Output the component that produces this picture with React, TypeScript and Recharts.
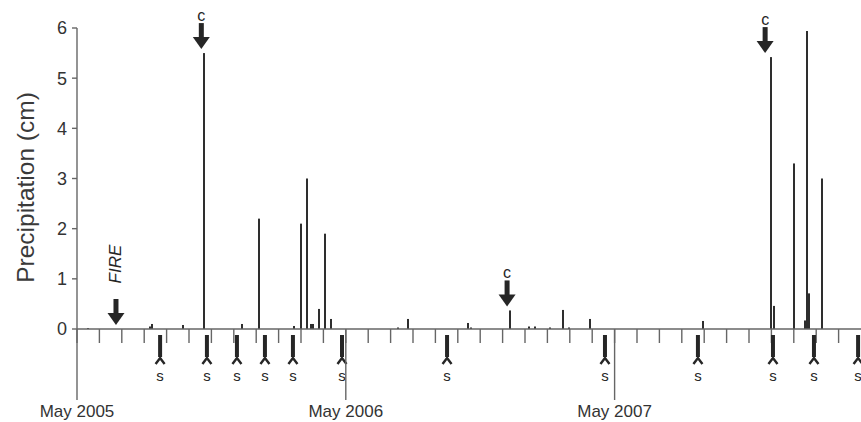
import { Bar, ComposedChart, Scatter, XAxis, YAxis } from "recharts"

// months counted from 1 May 2005
const rainMonths = [0.49, 3.26, 3.35, 4.73, 5.67, 7.37, 8.13, 9.69, 10.0, 10.27, 10.45, 10.54, 10.8, 11.07, 11.34, 14.33, 14.78, 17.46, 17.59, 19.33, 20.18, 20.45, 21.12, 21.7, 21.96, 22.9, 27.95, 30.98, 31.12, 32.0, 32.5, 32.59, 32.68, 33.26]
const rainCm = [0.02, 0.05, 0.1, 0.08, 5.5, 0.1, 2.2, 0.06, 2.1, 3.0, 0.1, 0.1, 0.4, 1.9, 0.2, 0.03, 0.2, 0.12, 0.03, 0.37, 0.05, 0.05, 0.03, 0.38, 0.03, 0.2, 0.16, 5.42, 0.46, 3.3, 0.17, 5.94, 0.71, 3.0]

const cMonths = [5.55, 19.2, 30.72]
const cAtCm = [5.5, 0.37, 5.42]
const fireMonths = [1.74]
const sMonths = [3.71, 5.8, 7.14, 8.39, 9.64, 11.83, 16.52, 23.57, 27.72, 31.07, 32.9, 34.87]

const monthTicks = [0, 1, 2, 3, 4, 5, 6, 7, 8, 9, 10, 11, 12, 13, 14, 15, 16, 17, 18, 19, 20, 21, 22, 23, 24, 25, 26, 27, 28, 29, 30, 31, 32, 33, 34]
const yearTicks = [0, 12, 24]
const yearLabels = ["May 2005", "May 2006", "May 2007"]
const yTicks = [0, 1, 2, 3, 4, 5, 6]

const rain = rainMonths.map((m, i) => ({ m, v: rainCm[i] }))
const cRows = cMonths.map((m, i) => ({ m, v: cAtCm[i] }))
const fireRows = fireMonths.map((m) => ({ m, v: 0 }))
const sRows = sMonths.map((m) => ({ m, v: 0 }))

const FONT = '"Liberation Sans", Arial, Helvetica, sans-serif'
const AXIS = "#666"
const INK = "#262626"

function DownArrow({ x, tip }: { x: number; tip: number }) {
    return (
        <g>
            <rect x={x - 2.5} y={tip - 26} width={5} height={16} fill={INK} />
            <polygon points={`${x - 8.5},${tip - 12} ${x + 8.5},${tip - 12} ${x},${tip}`} fill={INK} />
        </g>
    )
}

function CShape(props: any) {
    const { cx, cy } = props
    const tip = cy - 4
    return (
        <g>
            <DownArrow x={cx} tip={tip} />
            <text x={cx} y={tip - 34} textAnchor="middle" dominantBaseline="central" fontSize={16} fontFamily={FONT} fill={INK}>c</text>
        </g>
    )
}

function FireShape(props: any) {
    const { cx, cy } = props
    const tip = cy - 4
    return (
        <g>
            <DownArrow x={cx} tip={tip} />
            <text
                x={cx}
                y={tip - 61}
                transform={`rotate(-90, ${cx}, ${tip - 61})`}
                textAnchor="middle"
                dominantBaseline="central"
                fontSize={17}
                fontStyle="italic"
                fontFamily={FONT}
                fill={INK}
            >
                FIRE
            </text>
        </g>
    )
}

function SShape(props: any) {
    const { cx, cy } = props
    return (
        <g>
            <line x1={cx} x2={cx} y1={cy + 6} y2={cy + 28} stroke={INK} strokeWidth={4} />
            <polyline points={`${cx - 4.5},${cy + 35} ${cx},${cy + 29} ${cx + 4.5},${cy + 35}`} fill="none" stroke={INK} strokeWidth={2.4} />
            <text x={cx} y={cy + 46} textAnchor="middle" dominantBaseline="central" fontSize={15} fontFamily={FONT} fill={INK}>s</text>
        </g>
    )
}

function RainBar(props: any) {
    const { x, y, width, height } = props
    if (!height || height <= 0) return <g />
    const cx = Math.round(x + width / 2)
    return <rect x={cx - 1} y={y} width={2} height={height} fill="#2e2e2e" />
}

function MonthTick(props: any) {
    const { x, y, payload } = props
    const i = yearTicks.indexOf(payload.value)
    if (i < 0) return <g />
    return (
        <g>
            <line x1={x} x2={x} y1={y - 14} y2={y + 57} stroke={AXIS} strokeWidth={1.4} />
            <text x={x} y={y + 74} textAnchor="middle" fontSize={17} fontFamily={FONT} fill="#333">
                {yearLabels[i]}
            </text>
        </g>
    )
}

function YLabel(props: any) {
    const { viewBox } = props
    const x = viewBox.x + 25
    const y = viewBox.y + viewBox.height / 2 + 9
    return (
        <text x={x} y={y} transform={`rotate(-90, ${x}, ${y})`} textAnchor="middle" dominantBaseline="central" fontSize={24.5} fontFamily={FONT} fill="#3a3a3a">
            Precipitation (cm)
        </text>
    )
}

export default function App() {
    return (
        <div style={{ position: "absolute", left: 0, top: 0, background: "#fff" }}>
            <ComposedChart width={861} height={422} data={rain} margin={{ top: 28, right: 0, bottom: 0, left: 0 }}>
                <XAxis
                    dataKey="m"
                    type="number"
                    domain={[0, 35]}
                    ticks={monthTicks}
                    interval={0}
                    height={93}
                    tickSize={14}
                    tickMargin={0}
                    tick={<MonthTick />}
                    tickLine={{ stroke: AXIS, strokeWidth: 1.4 }}
                    axisLine={{ stroke: AXIS, strokeWidth: 1.4 }}
                />
                <YAxis
                    type="number"
                    domain={[0, 6]}
                    ticks={yTicks}
                    width={77}
                    tickSize={5}
                    tickMargin={5}
                    tick={{ fill: "#333", fontSize: 18, fontFamily: FONT }}
                    tickLine={{ stroke: AXIS, strokeWidth: 1.4 }}
                    axisLine={{ stroke: AXIS, strokeWidth: 1.4 }}
                    label={<YLabel />}
                />
                <Bar dataKey="v" barSize={2} shape={<RainBar />} isAnimationActive={false} />
                <Scatter data={cRows} dataKey="v" shape={<CShape />} isAnimationActive={false} />
                <Scatter data={fireRows} dataKey="v" shape={<FireShape />} isAnimationActive={false} />
                <Scatter data={sRows} dataKey="v" shape={<SShape />} isAnimationActive={false} />
            </ComposedChart>
        </div>
    )
}
